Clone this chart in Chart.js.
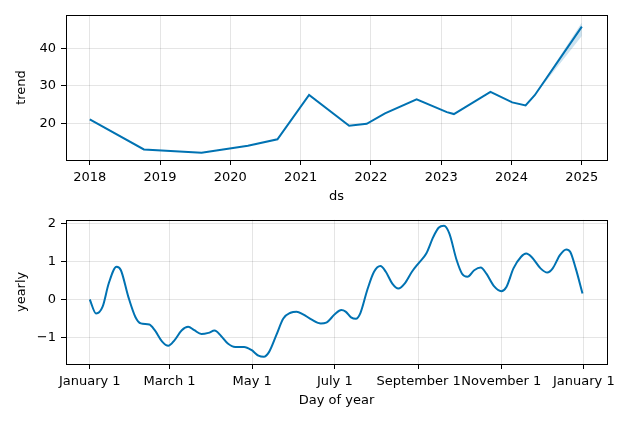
<!DOCTYPE html>
<html>
<head>
<meta charset="utf-8">
<script src="https://cdn.jsdelivr.net/npm/chart.js@4.4.1/dist/chart.umd.min.js"></script>
<style>
  body { margin: 0; background: #fff; overflow: hidden; }
  canvas { display: block; }
  #graficoYearly { margin-top: -4px; }
</style>
</head>
<body>
<canvas id="graficoTrend" width="634" height="211"></canvas>
<canvas id="graficoYearly" width="634" height="215"></canvas>
<script>
// datos
const trendX = [2018.0, 2018.77, 2019.59, 2020.25, 2020.67, 2021.12, 2021.69, 2021.94, 2022.20, 2022.65, 2023.08, 2023.18, 2023.70, 2024.01, 2024.20, 2024.33, 2025.0];
const trendY = [21.1, 13.1, 12.2, 14.1, 15.8, 27.6, 19.4, 19.9, 22.7, 26.4, 23.0, 22.5, 28.4, 25.6, 24.8, 27.5, 45.7];
const trendUpper = [21.1, 13.1, 12.2, 14.1, 15.8, 27.6, 19.5, 20.0, 22.7, 26.4, 23.0, 22.6, 28.4, 25.6, 24.9, 27.6, 46.8];
const trendLower = [21.1, 13.1, 12.2, 14.1, 15.8, 27.6, 19.3, 19.8, 22.7, 26.4, 23.0, 22.4, 28.4, 25.6, 24.7, 27.4, 43.2];
const yearTicks = [2018, 2019, 2020, 2021, 2022, 2023, 2024, 2025];
const trendTicks = [20, 30, 40];

const yearlyDay = [0, 4.7, 9.5, 14, 19.8, 23, 28.5, 33.7, 37.7, 44, 48, 53.5, 58, 62.7, 68, 72.7, 77.2, 82.5, 87.7, 92.2, 97, 102, 107.5, 114, 119.4, 124.6, 128.6, 132.5, 137.8, 143, 148.3, 152.8, 157.6, 164, 170.7, 174.7, 181, 185.8, 189, 193, 196.6, 200, 205, 210, 214.7, 218.7, 223.5, 228, 232.6, 238, 243, 248.6, 253.8, 257.7, 261.7, 265.6, 271, 275, 279, 284, 288.8, 293, 298.6, 304, 307.8, 313, 318.5, 322.4, 326.4, 333, 338, 342, 347.3, 352, 355, 359, 364];
const yearlyY = [0, -0.37, -0.19, 0.42, 0.86, 0.77, 0.07, -0.46, -0.63, -0.66, -0.81, -1.11, -1.22, -1.07, -0.81, -0.72, -0.81, -0.91, -0.88, -0.82, -0.96, -1.16, -1.25, -1.25, -1.33, -1.48, -1.51, -1.38, -0.94, -0.5, -0.35, -0.32, -0.39, -0.53, -0.63, -0.61, -0.39, -0.28, -0.32, -0.47, -0.51, -0.35, 0.25, 0.73, 0.88, 0.73, 0.42, 0.29, 0.42, 0.73, 0.96, 1.21, 1.65, 1.89, 1.94, 1.74, 1.04, 0.68, 0.6, 0.77, 0.84, 0.68, 0.35, 0.22, 0.33, 0.82, 1.12, 1.21, 1.12, 0.82, 0.71, 0.82, 1.17, 1.32, 1.25, 0.82, 0.16];
const dayTicks = [0, 59, 120, 181, 243, 304, 365];
const dayLabels = ['January 1', 'March 1', 'May 1', 'July 1', 'September 1', 'November 1', 'January 1'];
const yearlyTicks = [-1, 0, 1, 2];

const azul = '#0072B2';
Chart.defaults.font.family = 'DejaVu Sans';
Chart.defaults.font.size = 13;
Chart.defaults.color = '#000';

// marco negro alrededor del area
const marco = {
    id: 'marco',
    afterDraw(chart) {
        const a = chart.chartArea;
        const ctx = chart.ctx;
        ctx.save();
        ctx.strokeStyle = '#000';
        ctx.lineWidth = 1;
        ctx.strokeRect(Math.round(a.left) + 0.5, Math.round(a.top) + 0.5, Math.round(a.width), Math.round(a.height));
        ctx.restore();
    }
};

function pts(xs, ys) {
    return xs.map((x, i) => ({x: x, y: ys[i]}));
}

function gridOpts() {
    return {color: 'rgba(0,0,0,0.1)', tickColor: '#000', tickLength: 5, lineWidth: 1};
}

const ctxTrend = document.getElementById('graficoTrend');
let trendChart = new Chart(ctxTrend, {
    type: 'line',
    data: {
        datasets: [{
            data: pts(trendX, trendUpper),
            borderWidth: 0,
            pointRadius: 0,
            fill: false
        }, {
            data: pts(trendX, trendLower),
            borderWidth: 0,
            pointRadius: 0,
            backgroundColor: 'rgba(0,114,178,0.2)',
            fill: '-1'
        }, {
            data: pts(trendX, trendY),
            borderColor: azul,
            borderWidth: 2,
            pointRadius: 0,
            fill: false
        }]
    },
    options: {
        responsive: false,
        animation: false,
        layout: {padding: {top: 15, right: 27, left: 10, bottom: 3}},
        plugins: {legend: {display: false}, tooltip: {enabled: false}},
        scales: {
            x: {
                type: 'linear',
                min: 2017.662,
                max: 2025.358,
                afterBuildTicks: s => { s.ticks = yearTicks.map(v => ({value: v})); },
                afterFit: s => { s.height = 48; },
                ticks: {padding: 5, callback: v => String(v)},
                grid: gridOpts(),
                border: {display: false},
                title: {display: true, text: 'ds', padding: {top: 2}}
            },
            y: {
                min: 10.3,
                max: 48.8,
                afterBuildTicks: s => { s.ticks = trendTicks.map(v => ({value: v})); },
                afterFit: s => { s.width = 56; },
                ticks: {padding: 5},
                grid: gridOpts(),
                border: {display: false},
                title: {display: true, text: 'trend', padding: {bottom: 2}}
            }
        }
    },
    plugins: [marco]
});

const ctxYearly = document.getElementById('graficoYearly');
let yearlyChart = new Chart(ctxYearly, {
    type: 'line',
    data: {
        datasets: [{
            data: pts(yearlyDay, yearlyY),
            borderColor: azul,
            borderWidth: 2,
            pointRadius: 0,
            cubicInterpolationMode: 'monotone',
            fill: false
        }]
    },
    options: {
        responsive: false,
        animation: false,
        layout: {padding: {top: 5, right: 27, left: 10, bottom: 10}},
        plugins: {legend: {display: false}, tooltip: {enabled: false}},
        scales: {
            x: {
                type: 'linear',
                min: -17.55,
                max: 382.1,
                afterBuildTicks: s => { s.ticks = dayTicks.map(v => ({value: v})); },
                afterFit: s => { s.height = 48; },
                ticks: {padding: 5, autoSkip: false, maxRotation: 0, callback: v => dayLabels[dayTicks.indexOf(v)]},
                grid: gridOpts(),
                border: {display: false},
                title: {display: true, text: 'Day of year', padding: {top: 2}}
            },
            y: {
                min: -1.70,
                max: 2.10,
                afterBuildTicks: s => { s.ticks = yearlyTicks.map(v => ({value: v})); },
                afterFit: s => { s.width = 56; },
                ticks: {padding: 5, callback: v => (v < 0 ? '\u2212' + Math.abs(v) : String(v))},
                grid: gridOpts(),
                border: {display: false},
                title: {display: true, text: 'yearly', padding: {bottom: 2}}
            }
        }
    },
    plugins: [marco]
});
</script>
</body>
</html>
